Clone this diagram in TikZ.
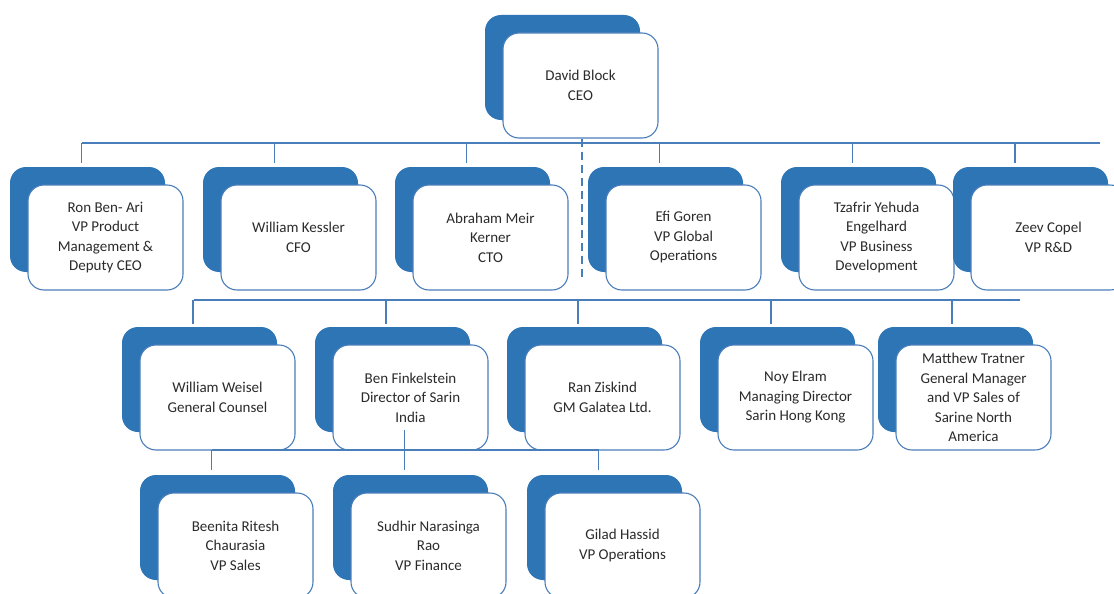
\documentclass[tikz,border=0pt]{standalone}
\usepackage{fontspec}
\setmainfont{Carlito}
\definecolor{bback}{HTML}{2E75B6}
\definecolor{bline}{HTML}{4A7EBB}
\definecolor{btxt}{HTML}{2B2B2B}
\tikzset{
 x=1pt,y=-1pt,
 backbox/.style={fill=bback, draw=none, rounded corners=16pt, minimum width=155pt, minimum height=105pt, inner sep=0pt},
 frontbox/.style={fill=white, draw=bline, line width=1.1pt, rounded corners=16pt, minimum width=155pt, minimum height=105pt, align=center, font=\fontsize{15}{19.5}\selectfont, text=btxt, inner sep=2pt},
 conn/.style={draw=bline, line width=1.6pt},
}
\newcommand\orgnode[4]{%
 \node[backbox] (#1b) at (#2-18,#3-18) {};
 \node[frontbox] (#1) at (#2,#3) {#4};}
\begin{document}
\begin{tikzpicture}
\useasboundingbox (0,0) rectangle (1114,594);
\fill[white] (0,0) rectangle (1114,594);
\clip (0,0) rectangle (1114,594);
% nodes
\orgnode{ceo}{580.5}{85.5}{David Block\\CEO}
\orgnode{ron}{105.5}{237.5}{Ron Ben- Ari\\VP Product\\Management \&\\Deputy CEO}
\orgnode{kessler}{298.5}{237.5}{William Kessler\\CFO}
\orgnode{abraham}{490.5}{237.5}{Abraham Meir\\Kerner\\CTO}
\orgnode{efi}{683.5}{237.5}{Efi Goren\\VP Global\\Operations}
\orgnode{tzafrir}{876.5}{237.5}{Tzafrir Yehuda\\Engelhard\\VP Business\\Development}
\orgnode{zeev}{1048.5}{237.5}{Zeev Copel\\VP R\&D}
\orgnode{weisel}{217.5}{397.5}{William Weisel\\General Counsel}
\orgnode{ben}{410.5}{397.5}{Ben Finkelstein\\Director of Sarin\\India}
\orgnode{ran}{602.5}{397.5}{Ran Ziskind\\GM Galatea Ltd.}
\orgnode{noy}{795.5}{397.5}{Noy Elram\\Managing Director\\Sarin Hong Kong}
\orgnode{matthew}{973.5}{397.5}{Matthew Tratner\\General Manager\\and VP Sales of\\Sarine North\\America}
\orgnode{beenita}{235.5}{545.5}{Beenita Ritesh\\Chaurasia\\VP Sales}
\orgnode{sudhir}{428.5}{545.5}{Sudhir Narasinga\\Rao\\VP Finance}
\orgnode{gilad}{622.5}{545.5}{Gilad Hassid\\VP Operations}
% level 1 connectors
\coordinate (bus1) at (0,143);
\coordinate (bus1end) at (1100,143);
\draw[conn] ([xshift=-6pt]ronb.north |- bus1) -- (bus1end);
\foreach \n in {ronb,kesslerb,abrahamb,efib,tzafrirb}
  \draw[conn, shorten <=4pt] ([xshift=-6pt]\n.north) -- ([xshift=-6pt]\n.north |- bus1);
\draw[conn, shorten <=4pt] ([xshift=-15.5pt]zeevb.north) -- ([xshift=-15.5pt]zeevb.north |- bus1);
\coordinate (dashend) at (0,280);
\draw[conn, dash pattern=on 8pt off 5pt] ([xshift=1.5pt]ceo.south) -- ([xshift=1.5pt]ceo.south |- dashend);
% level 2 connectors
\coordinate (bus2) at (0,300);
\coordinate (bus2end) at (1020,300);
\draw[conn] ([xshift=-6pt]weiselb.north |- bus2) -- (bus2end);
\foreach \n in {weiselb,benb,ranb,noyb}
  \draw[conn, shorten <=3pt] ([xshift=-6.5pt]\n.north) -- ([xshift=-6.5pt]\n.north |- bus2);
\draw[conn, shorten <=3pt] ([xshift=-3.5pt]matthewb.north) -- ([xshift=-3.5pt]matthewb.north |- bus2);
% level 3 connectors
\coordinate (bus3) at (0,450);
\coordinate (benline) at (0,430);
\draw[conn] ([xshift=-6pt]beenitab.north |- bus3) -- ([xshift=-6pt]giladb.north |- bus3);
\foreach \n in {beenitab,giladb}
  \draw[conn, shorten <=5pt] ([xshift=-6pt]\n.north) -- ([xshift=-6pt]\n.north |- bus3);
\draw[conn, shorten >=5pt] ([xshift=-6pt]sudhirb.north |- benline) -- ([xshift=-6pt]sudhirb.north);
\end{tikzpicture}
\end{document}
